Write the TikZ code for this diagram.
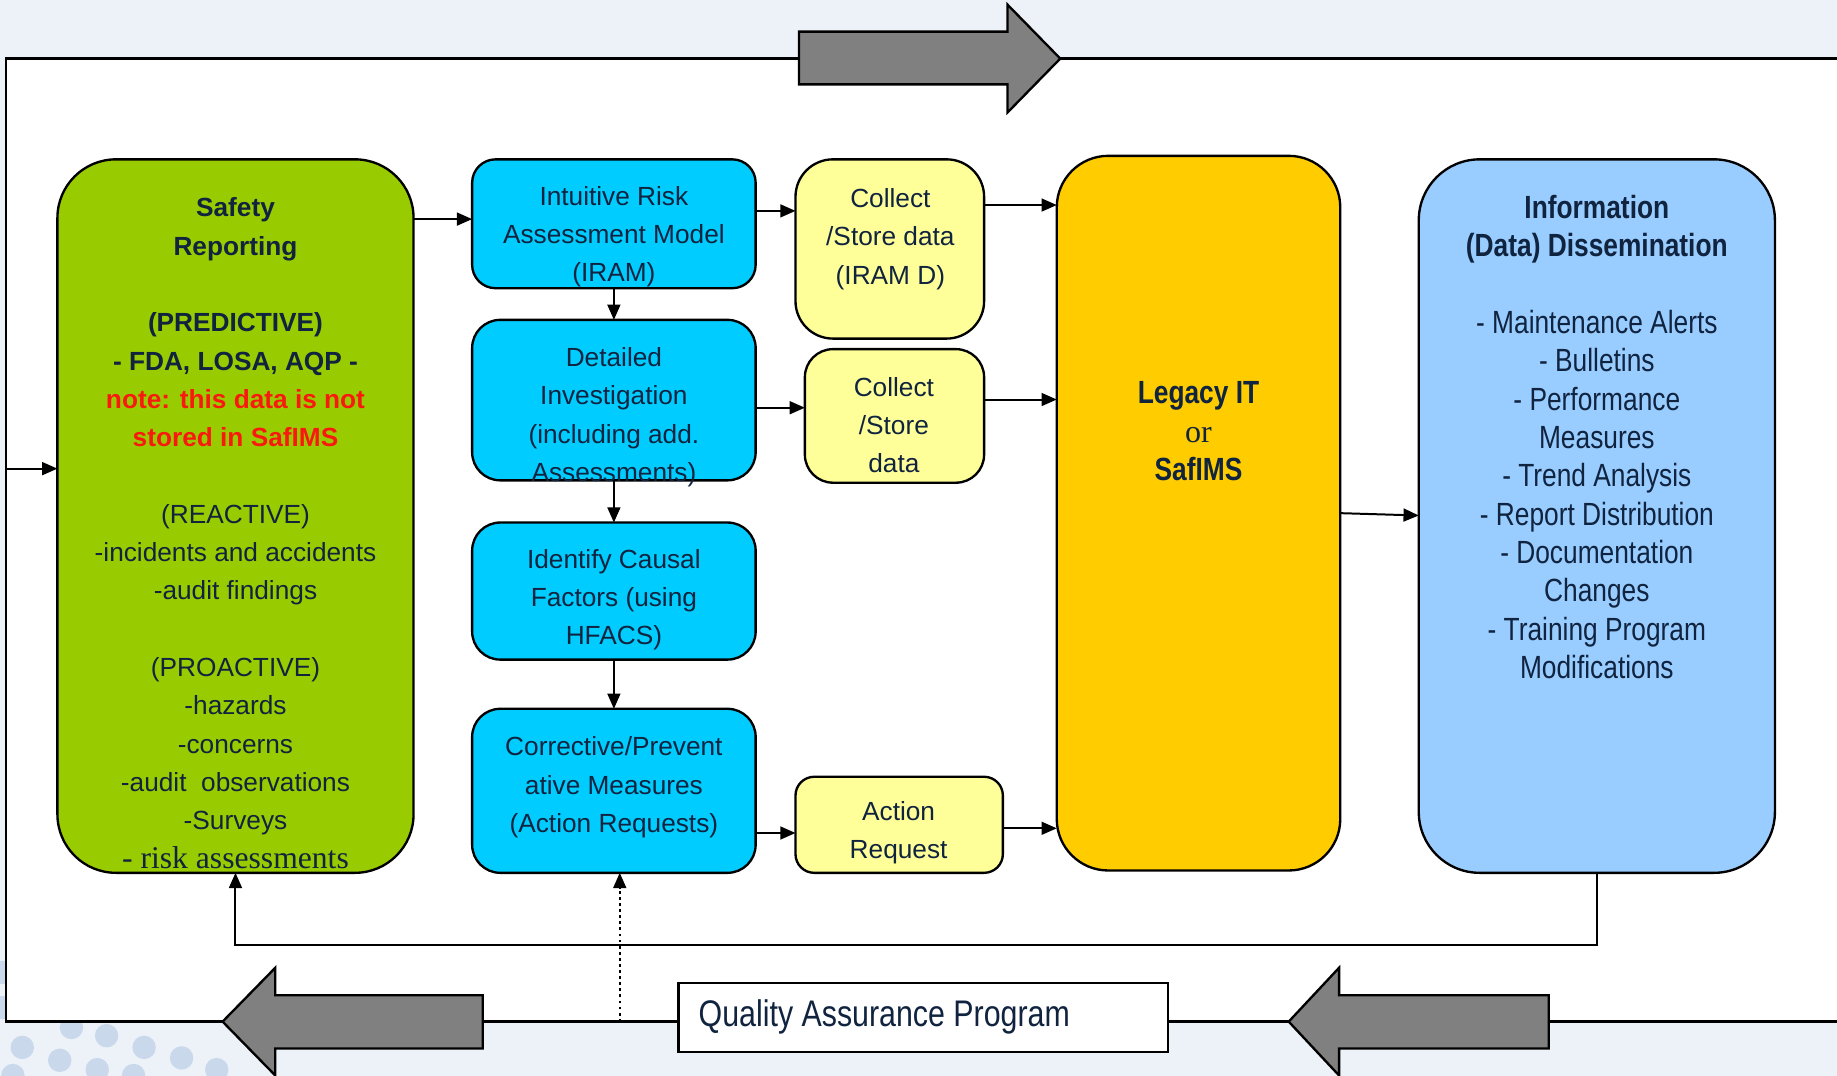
\documentclass[tikz,border=0pt]{standalone}
\usepackage{fontspec}
\setmainfont{Liberation Sans}
\newfontfamily\narrowsf{Liberation Sans}[FakeStretch=0.82]
\newfontfamily\serifrm{Liberation Serif}
\usetikzlibrary{arrows.meta,fit}

\definecolor{ink}{HTML}{10233F}
\definecolor{notered}{RGB}{250,25,15}
\definecolor{bgtint}{HTML}{EDF2F9}
\definecolor{dotblue}{HTML}{C9D8EB}
\definecolor{reportgreen}{HTML}{99CC00}
\definecolor{stepcyan}{HTML}{00CCFF}
\definecolor{storeyellow}{HTML}{FFFF99}
\definecolor{legacyorange}{HTML}{FFCC00}
\definecolor{infoblue}{HTML}{99CCFF}
\definecolor{blockgray}{HTML}{808080}

\begin{document}
\begin{tikzpicture}[x=0.5pt,y=-0.5pt,
  panel/.style={draw=black, line width=1pt, inner sep=0pt, outer sep=0pt, rounded corners=#1},
  panel/.default=11pt,
  txt/.style={text=ink, align=center, inner sep=0pt, font=\fontsize{11.2}{16.35}\selectfont},
  narrowtxt/.style={txt, font=\narrowsf\fontsize{13.7}{16.35}\selectfont},
  arr/.style={line width=0.85pt, -{Triangle[length=6.5pt,width=5.5pt]}},
  dotarr/.style={line width=0.85pt, dash pattern=on 1.2pt off 1.4pt, -{Triangle[length=6.5pt,width=5.5pt]}},
  frameline/.style={line width=1.1pt, black},
  blockarrow/.style={fill=blockgray, draw=black, line width=1pt, line join=miter}
]
\useasboundingbox (0,0) rectangle (1568,918);
\clip (0,0) rectangle (1568,918);

% backdrop with its dotted corner
\fill[bgtint] (0,0) rectangle (1568,918);
\foreach \px/\py in {19/894, 51/905, 61/877, 91/884, 123/894, 155/903, 83/913, 185/913, 114/918, 11/918, 2/860, 2/830}
  \fill[dotblue] (\px,\py) circle (5pt);

% white process frame
\fill[white] (5,50) rectangle (1590,872);
\draw[frameline] (1590,50) -- (5,50) -- (5,872) -- (1590,872);

% big flow arrows on the frame
\draw[blockarrow] (682,27) -- (860,27) -- (860,4) -- (905,50) -- (860,96) -- (860,72) -- (682,72) -- cycle;
\draw[blockarrow] (412,849.5) -- (235,849.5) -- (235,826) -- (190,872) -- (235,918) -- (235,895) -- (412,895) -- cycle;
\draw[blockarrow] (1322,849.5) -- (1143,849.5) -- (1143,826) -- (1100,872) -- (1143,918) -- (1143,895) -- (1322,895) -- cycle;

% panels
\node[panel=25pt, fill=reportgreen, fit={(49,136) (353,745)}] (safety) {};
\node[panel=10pt, fill=stepcyan, fit={(403,136) (645,246)}] (iram) {};
\node[panel=12pt, fill=stepcyan, fit={(403,273) (645,410)}] (detail) {};
\node[panel=12pt, fill=stepcyan, fit={(403,446) (645,563)}] (causal) {};
\node[panel=12pt, fill=stepcyan, fit={(403,605) (645,745)}] (corr) {};
\node[panel=16pt, fill=storeyellow, fit={(679,136) (840,289)}] (store1) {};
\node[panel=12pt, fill=storeyellow, fit={(687,298) (840,412)}] (store2) {};
\node[panel=8pt, fill=storeyellow, fit={(679,663) (856,745)}] (action) {};
\node[panel=22pt, fill=legacyorange, fit={(902,133) (1144,743)}] (legacy) {};
\node[panel=26pt, fill=infoblue, fit={(1211,136) (1515,745)}] (info) {};
\node[draw=black, line width=1pt, fill=white, inner sep=0pt, fit={(579,839) (997,898)}] (qa) {};

% panel texts
\node[txt] (safetytext) at (201,455) {\textbf{Safety}\\\textbf{Reporting}\\[16.35pt]\textbf{(PREDICTIVE)}\\\textbf{- FDA, LOSA, AQP -}\\\textcolor{notered}{\textbf{note: this data is not}}\\\textcolor{notered}{\textbf{stored in SafIMS}}\\[16.35pt](REACTIVE)\\-incidents and accidents\\-audit findings\\[16.35pt](PROACTIVE)\\-hazards\\-concerns\\-audit\ \ observations\\-Surveys\\{\serifrm\fontsize{13.5}{16.35}\selectfont - risk assessments}};
\node[txt] (iramtext) at (524,202) {Intuitive Risk\\Assessment Model\\(IRAM)};
\node[txt] (detailtext) at (524,356) {Detailed\\Investigation\\(including add.\\Assessments)};
\node[txt] (causaltext) at (524,512) {Identify Causal\\Factors (using\\HFACS)};
\node[txt] (corrtext) at (524,672) {Corrective/Prevent\\ative Measures\\(Action Requests)};
\node[txt] (store1text) at (760,204) {Collect\\/Store data\\(IRAM D)};
\node[txt] (store2text) at (763,363) {Collect\\/Store\\data};
\node[txt] (actiontext) at (767,711) {Action\\Request};
\node[narrowtxt] (legacytext) at (1023,368) {\textbf{Legacy IT}\\{\serifrm or}\\\textbf{SafIMS}};
\node[narrowtxt] (infotext) at (1363,373) {\textbf{Information}\\\textbf{(Data) Dissemination}\\[16.35pt]- Maintenance Alerts\\- Bulletins\\- Performance\\Measures\\- Trend Analysis\\- Report Distribution\\- Documentation\\Changes\\- Training Program\\Modifications};
\node[txt, anchor=west, font=\narrowsf\fontsize{15.8}{19}\selectfont] (qatext) at (596,868) {Quality Assurance Program};

% connectors
\coordinate (frameleft) at (5,400);
\coordinate (qafoot) at (529,872);
\coordinate (loopright) at (1363,807);
\coordinate (loopleft) at (201,807);

\draw[arr] (frameleft) -- (frameleft -| safety.west);
\draw[arr] (safety.east |- 0,187) -- (iram.west |- 0,187);
\draw[arr] (iram.south) -- (detail.north);
\draw[arr] (detail.south) -- (causal.north);
\draw[arr] (causal.south) -- (corr.north);
\draw[arr] (iram.east |- 0,180) -- (store1.west |- 0,180);
\draw[arr] (detail.east |- 0,348) -- (store2.west |- 0,348);
\draw[arr] (corr.east |- 0,711) -- (action.west |- 0,711);
\draw[arr] (store1.east |- 0,175) -- (legacy.west |- 0,175);
\draw[arr] (store2.east |- 0,341) -- (legacy.west |- 0,341);
\draw[arr] (action.east |- 0,707) -- (legacy.west |- 0,707);
\draw[arr] (legacy.east |- 0,438) -- (info.west |- 0,440);
\draw[arr] (info.south -| loopright) -- (loopright) -- (loopleft) -- (safety.south -| loopleft);
\draw[dotarr] (qafoot) -- (qafoot |- corr.south);
\end{tikzpicture}
\end{document}
